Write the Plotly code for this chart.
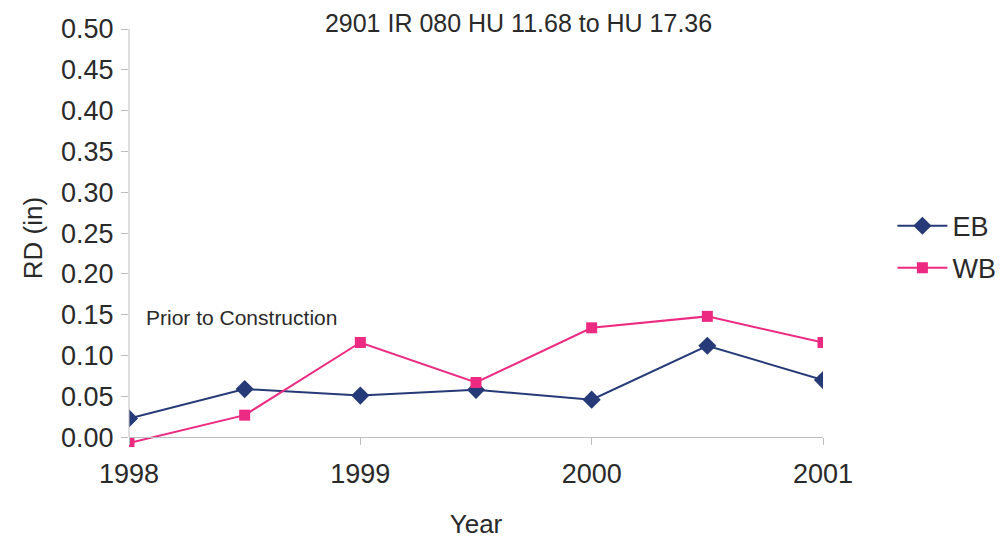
import plotly.graph_objects as go

years = [1998.0, 1998.5, 1999.0, 1999.5, 2000.0, 2000.5, 2001.0]
eb = [0.023, 0.059, 0.051, 0.058, 0.046, 0.112, 0.070]
wb = [-0.007, 0.027, 0.116, 0.067, 0.134, 0.148, 0.116]
x_ticks = [1998, 1999, 2000, 2001]
y_ticks = [0.0, 0.05, 0.10, 0.15, 0.20, 0.25, 0.30, 0.35, 0.40, 0.45, 0.50]

Y_MIN, Y_MAX = -0.012, 0.5

EB_COLOR = "#263a78"
WB_COLOR = "#ec2a82"
FONT = "Liberation Sans, Arial, sans-serif"
TXT = "#2a2a2a"
AXIS = "#bdbdbd"

fig = go.Figure()
fig.add_trace(go.Scatter(
    x=years, y=eb, name="EB", mode="lines+markers",
    line=dict(color=EB_COLOR, width=2),
    marker=dict(symbol="diamond", size=14, color=EB_COLOR),
    legendgroup="eb",
))
fig.add_trace(go.Scatter(
    x=years, y=wb, name="WB", mode="lines+markers",
    line=dict(color=WB_COLOR, width=2),
    marker=dict(symbol="square", size=11, color=WB_COLOR),
    legendgroup="wb",
))

fig.add_annotation(
    x=1998.065, y=0.147, xref="x", yref="y", text="Prior to Construction",
    showarrow=False, xanchor="left", yanchor="middle",
    font=dict(family=FONT, size=21, color=TXT),
)

# vertical axis line from 0 to top (x axis sits at y = 0)
fig.add_shape(type="line", xref="paper", yref="y", x0=0, x1=0, y0=0, y1=Y_MAX,
              line=dict(color=AXIS, width=1))

fig.update_layout(
    width=1005, height=543,
    margin=dict(l=121, r=181, t=21, b=104),
    paper_bgcolor="white", plot_bgcolor="white",
    font=dict(family=FONT, color=TXT),
    title=dict(text="2901 IR 080 HU 11.68 to HU 17.36", x=0.508, xanchor="center",
               y=0.972, yanchor="middle", font=dict(size=25, color=TXT)),
    legend=dict(x=1.1, y=0.478, xanchor="left", yanchor="middle",
                font=dict(size=27, color=TXT), tracegroupgap=4,
                bgcolor="rgba(0,0,0,0)", itemwidth=50),
    showlegend=True,
)
fig.update_xaxes(
    range=[1998, 2001], tickvals=x_ticks, ticktext=[str(t) for t in x_ticks],
    anchor="free", position=(0 - Y_MIN) / (Y_MAX - Y_MIN),
    showgrid=False, zeroline=False, showline=True, linecolor=AXIS, linewidth=1,
    ticks="outside", ticklen=7, tickcolor=AXIS,
    tickfont=dict(size=27, color=TXT), ticklabelstandoff=5,
    title=dict(text="Year", font=dict(size=26, color=TXT), standoff=27),
    automargin=False,
)
fig.update_yaxes(
    range=[Y_MIN, Y_MAX], tickvals=y_ticks, tickformat=".2f",
    showgrid=False, zeroline=False, showline=False,
    ticks="outside", ticklen=7, tickcolor=AXIS,
    tickfont=dict(size=27, color=TXT), ticklabelstandoff=2,
    title=dict(text="RD (in)", font=dict(size=26, color=TXT), standoff=10),
    automargin=False,
)

fig.write_html("out.html")
